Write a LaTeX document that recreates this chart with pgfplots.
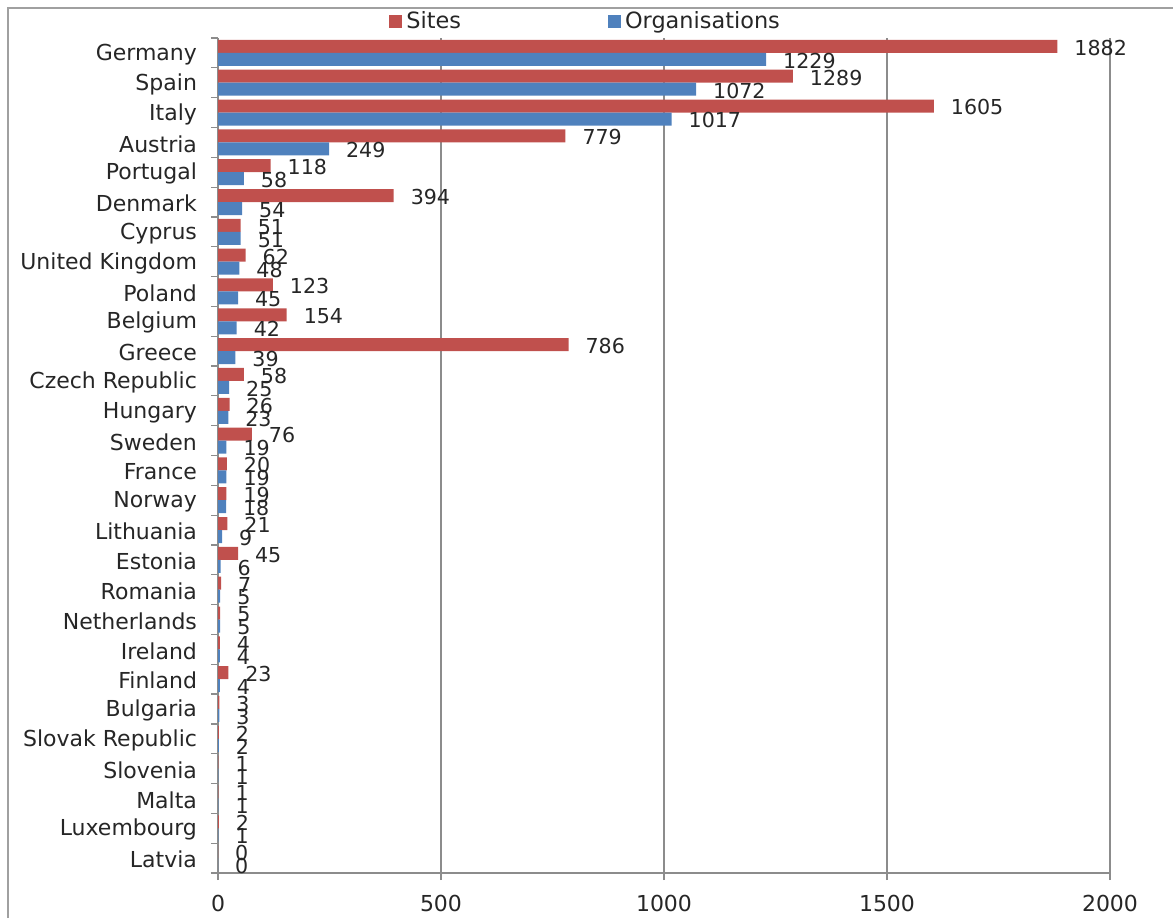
\documentclass[border=0pt]{standalone}
\usepackage{fontspec}
\setmainfont{DejaVu Sans}
\usepackage{pgfplots}
\usepackage{pgfplotstable}
\pgfplotsset{compat=1.18}

\definecolor{sitesred}{HTML}{C0504D}
\definecolor{orgblue}{HTML}{4F81BD}
\definecolor{axisgray}{HTML}{8C8C8C}
\definecolor{framegray}{HTML}{A0A0A0}

% countries listed bottom to top
\pgfplotstableread[col sep=comma]{
idx,country,sites,orgs
0,Latvia,0,0
1,Luxembourg,2,1
2,Malta,1,1
3,Slovenia,1,1
4,Slovak Republic,2,2
5,Bulgaria,3,3
6,Finland,23,4
7,Ireland,4,4
8,Netherlands,5,5
9,Romania,7,5
10,Estonia,45,6
11,Lithuania,21,9
12,Norway,19,18
13,France,20,19
14,Sweden,76,19
15,Hungary,26,23
16,Czech Republic,58,25
17,Greece,786,39
18,Belgium,154,42
19,Poland,123,45
20,United Kingdom,62,48
21,Cyprus,51,51
22,Denmark,394,54
23,Portugal,118,58
24,Austria,779,249
25,Italy,1605,1017
26,Spain,1289,1072
27,Germany,1882,1229
}\datatable

\begin{document}
\begin{tikzpicture}[x=1pt,y=1pt]
\useasboundingbox (0,0) rectangle (586.5,459);
\draw[framegray, line width=0.6pt] (4,0) -- (4,455) -- (586.5,455);
\begin{axis}[
  at={(109pt,22.5pt)}, anchor=south west,
  scale only axis, width=446pt, height=417.5pt,
  xbar, bar width=6.5pt,
  xmin=0, xmax=2000, ymin=-0.5, ymax=27.5,
  xtick={0,500,...,2000},
  minor xtick={0,500,...,2000},
  ytick={0,...,27},
  yticklabels from table={\datatable}{country},
  minor ytick={-0.5,0.5,...,27.5},
  tick align=outside,
  major tick length=0pt,
  minor tick length=3.5pt,
  xmajorgrids,
  grid style={axisgray, line width=0.6pt},
  axis x line*=bottom, axis y line*=left,
  axis line style={axisgray, line width=0.6pt},
  tick style={axisgray, line width=0.6pt},
  point meta=x,
  nodes near coords,
  every node near coord/.append style={anchor=west, xshift=5pt, yshift=-0.7pt,
    font=\fontsize{10.3}{12}\selectfont, text=black!85},
  /pgf/number format/1000 sep={},
  /pgf/number format/assume math mode=true,
  ticklabel style={font=\fontsize{11}{13}\selectfont, text=black!85},
  yticklabel style={xshift=-7pt, yshift=-0.8pt},
  xticklabel style={yshift=-7.3pt},
  legend style={at={(axis description cs:0.1917,1.0192)}, anchor=west,
    draw=none, fill=none, legend columns=2, inner sep=0pt,
    font=\fontsize{11.2}{13}\selectfont, text=black!85,
    /tikz/every even column/.append style={column sep=71.5pt}},
  legend image code/.code={\fill[#1] (0pt,-3.25pt) rectangle (6.5pt,3.25pt);},
]
\addplot[fill=sitesred, draw=none, bar shift=3.25pt]
  table[x=sites, y=idx] {\datatable};
\addplot[fill=orgblue, draw=none, bar shift=-3.25pt]
  table[x=orgs, y=idx] {\datatable};
\legend{Sites, Organisations}
\end{axis}
\end{tikzpicture}
\end{document}
